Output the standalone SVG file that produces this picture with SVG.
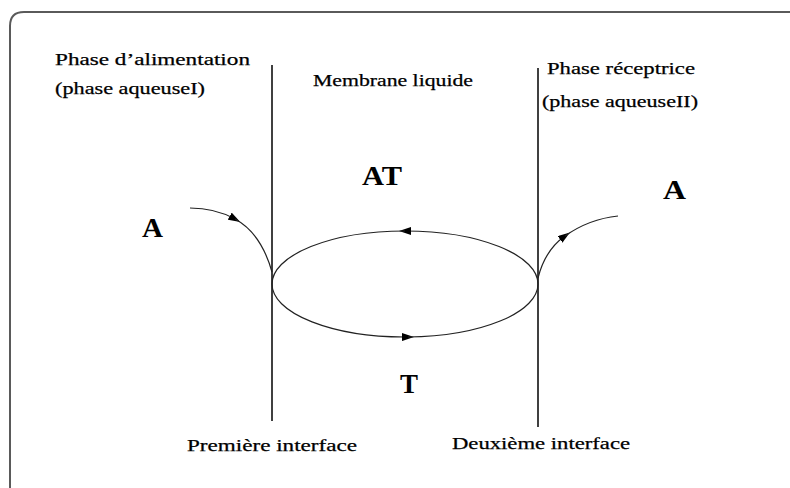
<svg xmlns="http://www.w3.org/2000/svg" width="790" height="488" viewBox="0 0 790 488">
<style>
.frame{fill:none;stroke:#5a5a5a;stroke-width:2}
.iface{fill:none;stroke:#000;stroke-width:1.5}
.flow{fill:none;stroke:#222;stroke-width:1.2}
.lbl{font-family:"Liberation Serif","Times New Roman",serif;font-size:17px;fill:#000;stroke:#000;stroke-width:0.25}
.big{font-family:"Liberation Serif","Times New Roman",serif;font-size:28px;font-weight:bold;fill:#000}
</style>
<defs>
<marker id="arr" markerWidth="12" markerHeight="8" refX="6" refY="4" orient="auto" markerUnits="userSpaceOnUse">
<path d="M0,0 L12,4 L0,8 z" fill="#000"/>
</marker>
</defs>
<rect width="790" height="488" fill="#fff"/>
<path class="frame" d="M10,492 L10,26 Q10,12 24,12 L794,12"/>

<g id="interface1">
<line class="iface" x1="272" y1="65" x2="272" y2="421"/>
<text class="lbl" font-family="Liberation Serif, serif" x="187" y="451" textLength="170" lengthAdjust="spacingAndGlyphs">Première interface</text>
</g>
<g id="interface2">
<line class="iface" x1="538" y1="68" x2="538" y2="427"/>
<text class="lbl" font-family="Liberation Serif, serif" x="452" y="449" textLength="178" lengthAdjust="spacingAndGlyphs">Deuxième interface</text>
</g>
<g id="phase1">
<text class="lbl" font-family="Liberation Serif, serif" x="55" y="65" textLength="195" lengthAdjust="spacingAndGlyphs">Phase d’alimentation</text>
<text class="lbl" font-family="Liberation Serif, serif" x="55" y="94" textLength="150" lengthAdjust="spacingAndGlyphs">(phase aqueuseI)</text>
</g>
<g id="membrane">
<text class="lbl" font-family="Liberation Serif, serif" x="313" y="86" textLength="160" lengthAdjust="spacingAndGlyphs">Membrane liquide</text>
</g>
<g id="phase2">
<text class="lbl" font-family="Liberation Serif, serif" x="547" y="74" textLength="148" lengthAdjust="spacingAndGlyphs">Phase réceptrice</text>
<text class="lbl" font-family="Liberation Serif, serif" x="542" y="107" textLength="156" lengthAdjust="spacingAndGlyphs">(phase aqueuseII)</text>
</g>
<g id="A-left"><text class="big" x="142" y="237" textLength="21" lengthAdjust="spacingAndGlyphs">A</text></g>
<g id="A-right"><text class="big" x="663" y="199" textLength="23" lengthAdjust="spacingAndGlyphs">A</text></g>
<g id="AT"><text class="big" x="362" y="185" textLength="40" lengthAdjust="spacingAndGlyphs">AT</text></g>
<g id="T"><text class="big" x="400" y="393" textLength="18" lengthAdjust="spacingAndGlyphs">T</text></g>

<g id="connectors">
<path class="flow" d="M190,208 Q215,208 235,219" marker-end="url(#arr)"/>
<path class="flow" d="M235,219 Q261,233 272,272"/>
<path class="flow" d="M538,278 Q545,250 565,236" marker-end="url(#arr)"/>
<path class="flow" d="M565,236 Q589,219 618,216"/>
<path class="flow" d="M538,284 A133,53 0 0 0 405,231" marker-end="url(#arr)"/>
<path class="flow" d="M405,231 A133,53 0 0 0 272,284 A133,53 0 0 0 408,337" marker-end="url(#arr)"/>
<path class="flow" d="M408,337 A133,53 0 0 0 538,284"/>
</g>
</svg>
